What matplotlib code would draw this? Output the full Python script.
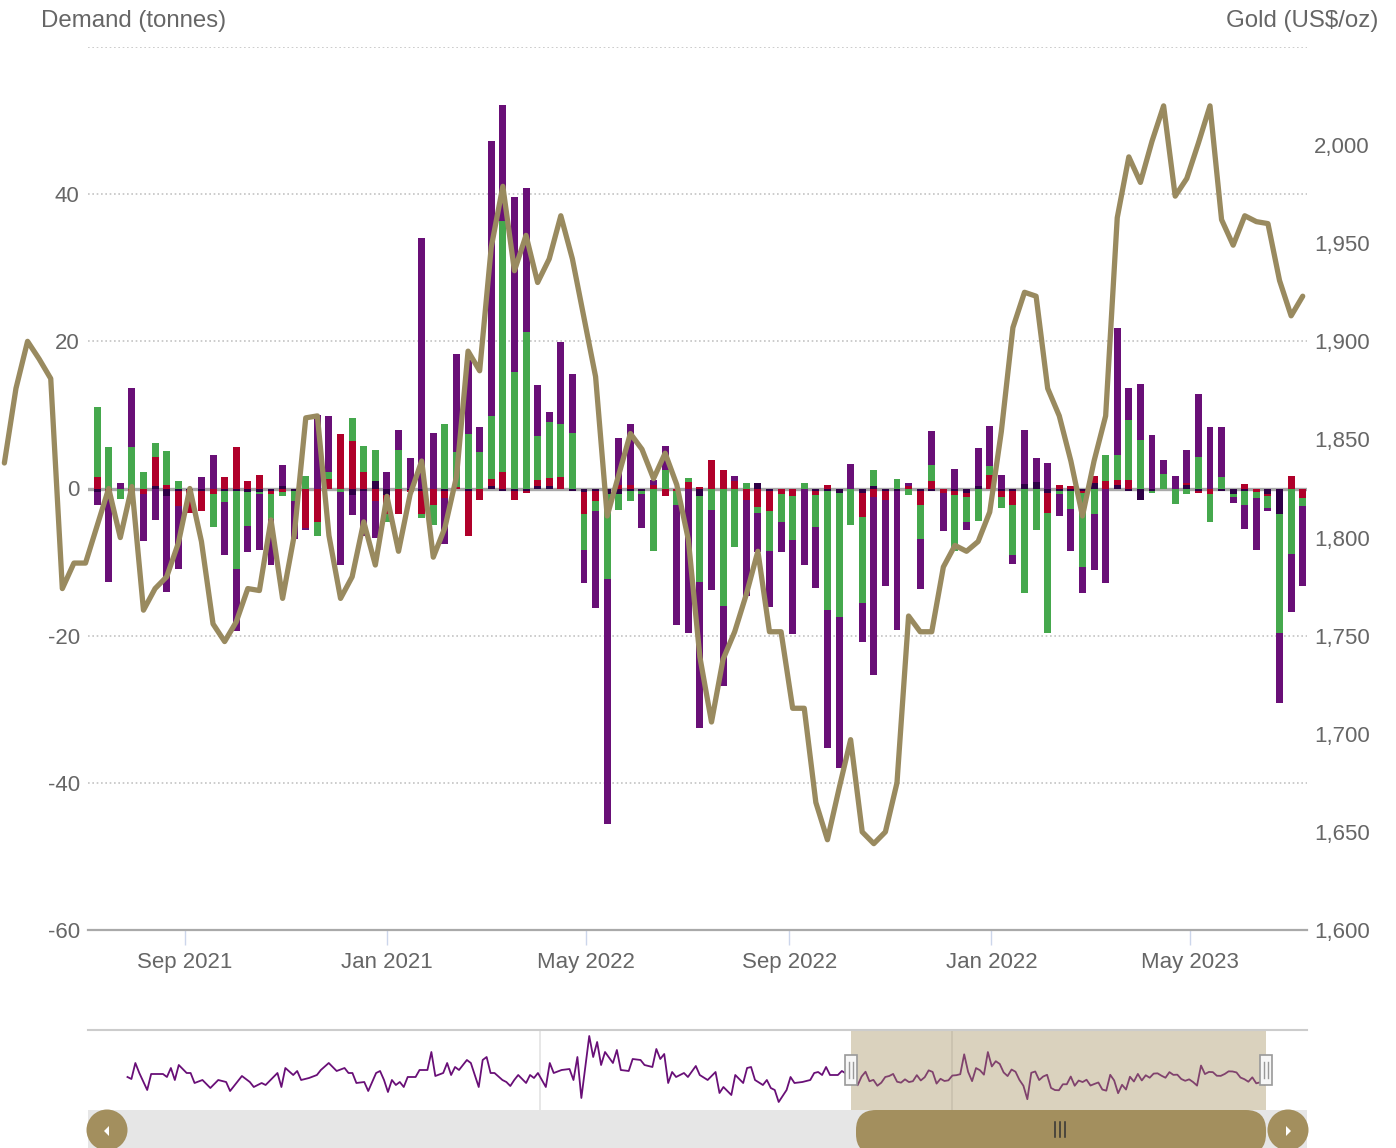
import matplotlib
matplotlib.use('Agg')
import matplotlib.pyplot as plt
import matplotlib.dates as mdates
from matplotlib.patches import Rectangle, Circle, FancyBboxPatch, Polygon
import numpy as np
import pandas as pd

plt.rcParams['font.family'] = ['Liberation Sans', 'DejaVu Sans']
plt.rcParams['axes.unicode_minus'] = False

W, H = 1396, 1148

# ---- data -------------------------------------------------------------
start_week = '2021-07-10'   # first weekly bar

# weekly flows (tonnes); stacked outward from zero in this order
dark_vals = [-0.5, 0, 0, 0, 0, 0.4, -1.0, -0.3, -0.2, -0.3,
             0, -0.3, -0.3, -0.5, -0.5, -0.3, 0.4, -0.3, 0, 0,
             0, 0, -0.9, -0.4, 1.0, -0.9, 0, -0.2, -0.4, 0,
             -0.4, 0, -0.4, 0, 0.3, -0.3, -0.3, -0.3, 0.3, 0.3,
             0, -0.4, -0.5, -0.3, -0.8, -0.7, -0.3, -0.3, 0, 0,
             0, 0, -1.0, 0, 0, 0, 0, 0.7, -0.3, 0,
             0, 0, -0.4, -0.4, -0.6, 0, -0.6, 0.4, -0.4, -0.4,
             0, -0.4, -0.3, 0, -0.4, -0.6, 0.4, 0, -0.4, -0.4,
             0.6, 0.9, -0.6, -0.3, -0.3, -0.3, 0.8, 0, 0.5, -0.4,
             -1.5, -0.3, 0, 0, 0.5, -0.3, 0, -0.3, -0.7, -0.3,
             0, -0.7, -3.5, 0, 0]
red_vals = [1.6, -0.3, 0, -0.7, -0.7, 3.9, 0.45, -2.1, -3.1, -2.7,
            -0.8, 1.6, 5.7, 1.0, 1.9, -0.5, -0.5, 0, -5.4, -4.5,
            1.3, 7.4, 6.4, 2.2, -1.7, -2.6, -3.4, -0.3, -3.1, -2.3,
            -0.9, 0.2, -6.0, -1.5, 1.0, 2.2, -1.3, -0.3, 0.9, 1.1,
            1.6, 0, -3.0, -1.4, 0, 0.5, 0.5, 0, 0.5, -1.0,
            -0.3, 0.9, 0.2, 3.9, 2.5, 1.0, -1.5, -2.5, -2.7, -0.7,
            -1.0, 0, -0.5, 0.5, 0, 0, -3.3, -1.1, -1.1, 0,
            0.3, -1.9, 1.0, -0.6, -0.5, -0.5, 0, 1.9, -0.7, -1.9,
            0, 0, -2.7, 0.5, 0.4, -0.3, 0.9, 1.0, 0.6, 1.2,
            0, 0, 0, 0, 0.2, -0.3, -0.7, 0, 0, 0.6,
            -0.5, -0.3, 0, 1.7, -1.3]
green_vals = [9.5, 5.7, -1.4, 5.7, 2.2, 1.9, 4.7, 1.0, 0, 0,
              -4.4, -1.6, -10.6, -4.6, -0.3, -3.3, -0.5, -1.4, 1.7, -1.9,
              0.9, -0.45, 3.2, 3.6, 4.2, -1.1, 5.3, 0, -0.5, -2.7,
              8.7, 4.7, 7.4, 4.9, 8.5, 34.1, 15.9, 21.3, 6.0, 7.6,
              7.1, 7.6, -4.9, -1.4, -11.5, -2.2, -1.4, -0.5, -8.5, 2.5,
              -1.9, 0.5, -11.7, -2.9, -16.0, -7.9, 0.7, -0.8, -5.5, -3.8,
              -6.0, 0.8, -4.4, -16.1, -16.9, -5.0, -11.7, 2.1, 0, 1.3,
              -0.9, -4.6, 2.2, 0, -7.6, -3.5, -4.4, 1.1, -1.6, -6.8,
              -14.2, -5.7, -16.4, -0.5, -2.5, -10.1, -3.5, 3.5, 3.5, 8.1,
              6.6, -0.3, 2.0, -2.1, -0.8, 4.3, -3.8, 1.5, -0.5, -1.9,
              -0.8, -1.6, -16.1, -8.9, -1.1]
purple_vals = [-1.8, -12.4, 0.7, 7.9, -6.4, -4.3, -13.1, -8.5, 0, 1.5,
               4.6, -7.1, -8.5, -3.5, -7.6, -6.3, 2.8, -5.2, -0.3, 10.0,
               7.6, -9.9, -2.7, -6.0, -5.0, 2.2, 2.7, 4.2, 34.0, 7.6,
               -6.2, 13.4, 10.1, 3.5, 37.4, 15.8, 23.7, 19.6, 6.8, 1.4,
               11.2, 7.9, -4.4, -13.1, -33.3, 6.3, 8.3, -4.6, 0.7, 3.3,
               -16.4, -19.6, -19.9, -10.9, -10.9, 0.7, -13.1, -5.3, -7.6, -4.1,
               -12.8, -10.4, -8.2, -18.8, -20.5, 3.3, -5.2, -24.3, -11.7, -18.8,
               0.4, -6.8, 4.6, -5.2, 2.6, -1.1, 5.1, 5.5, 1.9, -1.1,
               7.3, 3.2, 3.5, -3.0, -5.7, -3.5, -7.6, -12.9, 17.2, 4.4,
               7.6, 7.3, 1.9, 1.7, 4.5, 8.5, 8.3, 6.8, -0.8, -3.3,
               -7.1, -0.5, -9.5, -7.9, -10.9]

# gold price (US$/oz), weekly, starting 8 weeks before the first bar
gold_weeks_before = 8
gold_price = [1838, 1876, 1900, 1891, 1881, 1774, 1787, 1787,
              1806, 1825, 1800, 1826, 1763, 1774, 1780, 1797, 1825, 1798,
              1756, 1747, 1757, 1774, 1773, 1809, 1769, 1801, 1861, 1862,
              1801, 1769, 1780, 1808, 1786, 1821, 1793, 1822, 1839, 1790,
              1805, 1831, 1895, 1885, 1948, 1979, 1936, 1954, 1930, 1942,
              1964, 1942, 1912, 1882, 1811, 1832, 1853, 1845, 1830, 1843,
              1827, 1799, 1739, 1706, 1738, 1752, 1771, 1793, 1752, 1752,
              1713, 1713, 1665, 1646, 1672, 1697, 1650, 1644, 1650, 1675,
              1760, 1752, 1752, 1785, 1796, 1793, 1798, 1813, 1854, 1907,
              1925, 1923, 1876, 1862, 1839, 1811, 1839, 1862, 1963, 1994,
              1981, 2002, 2020, 1974, 1983, 2001, 2020, 1962, 1949, 1964,
              1961, 1960, 1931, 1913, 1923]

# navigator history (weeks relative to start_week, tonnes)
nav_hist_weeks = [-184, -183, -182, -181, -179, -178, -175, -174, -173, -172,
                  -171, -169, -168, -167, -165, -163, -161, -159, -158, -155,
                  -153, -152, -150, -149, -147, -146, -145, -144, -142, -141,
                  -140, -138, -136, -135, -133, -131, -129, -128, -127, -126,
                  -124, -123, -121, -120, -119, -118, -117, -116, -115, -114,
                  -113, -111, -110, -108, -107, -106, -104, -103, -102, -101,
                  -100, -98, -97, -95, -94, -93, -92, -91, -89, -88,
                  -87, -86, -85, -83, -82, -81, -80, -78, -77, -76,
                  -74, -72, -71, -70, -69, -67, -66, -65, -64, -63,
                  -61, -60, -59, -57, -56, -54, -53, -51, -50, -49,
                  -48, -47, -46, -45, -43, -42, -40, -39, -37, -35,
                  -34, -33, -31, -30, -28, -27, -26, -25, -23, -22,
                  -21, -20, -19, -17, -16, -15, -13, -11, -10, -9,
                  -8, -7, -6, -4, -3]
nav_hist_vals = [0, -3, 21, 6, -19.5, 4.5, 4.5, 0, 13.5, -4.5,
                 18, 6, 6, -9, -4.5, -16.5, -4.5, -7.5, -21, 1.5,
                 -7.5, -15, -9, -12, 0, 6, -15, 13.5, 3, 9,
                 -4.5, -1.5, 3, 10.5, 21, 9, 13.5, 6, 6, -9,
                 -7.5, -21, 6, 9, -4.5, -22.5, -4.5, -12, -7.5, -15,
                 0, 0, 10.5, 10.5, 37.5, 1.5, 6, 21, 3, 15,
                 10.5, 25.5, 21, -15, 25.5, 30, 6, 6, -4.5, -7.5,
                 -13.5, -4.5, 3, -9, 3, -1.5, 6, -15, 21, 6,
                 10.5, 12, -4.5, 30, -31.5, 61.5, 30, 52.5, 18, 37.5,
                 21, 40.5, 10.5, 9, 27, 25.5, 18, 15, 42, 27,
                 34.5, -9, 7.5, 0, 6, 0, 16.5, 3, -4.5, 7.5,
                 -24, -15, -27, 3, -9, 13.5, 15, -4.5, -12, -4.5,
                 -16.5, -19.5, -37.5, -19.5, 0, -9, -7.5, -4.5, 6, 7.5,
                 3, 15, 3, 3, 9]

x_tick_dates = ['2021-09-01', '2022-01-01', '2022-05-01',
                '2022-09-01', '2023-01-01', '2023-05-01']
x_tick_labels = ['Sep 2021', 'Jan 2021', 'May 2022',
                 'Sep 2022', 'Jan 2022', 'May 2023']
left_ticks = [-60, -40, -20, 0, 20, 40]
right_ticks = [1600, 1650, 1700, 1750, 1800, 1850, 1900, 1950, 2000]
nav_year_lines = ['2020-01-01', '2022-01-01']

# ---- colours ------------------------------------------------------------
C_DARK, C_RED, C_GREEN, C_PURPLE = '#2e0046', '#b0002a', '#45a84d', '#690f77'
C_GOLD = '#998a5f'
C_TAN = '#a38f5e'
C_TEXT = '#666666'

# ---- figure -----------------------------------------------------------
fig = plt.figure(figsize=(W / 100, H / 100), dpi=100)


def fx(px):
    return px / W


def fy(py):
    return 1 - py / H


ax = fig.add_axes([fx(88), fy(930), fx(1307) - fx(88), fy(47) - fy(930)])
start = pd.Timestamp(start_week)
n = len(purple_vals)
dates = pd.date_range(start, periods=n, freq='7D')
xd = mdates.date2num(dates)

pos = np.zeros(n)
neg = np.zeros(n)
for vals, col in [(dark_vals, C_DARK), (red_vals, C_RED),
                  (green_vals, C_GREEN), (purple_vals, C_PURPLE)]:
    v = np.array(vals, dtype=float)
    bottom = np.where(v >= 0, pos, neg)
    ax.bar(xd, v, width=4.2, bottom=bottom, color=col, linewidth=0, zorder=3)
    pos += np.clip(v, 0, None)
    neg += np.clip(v, None, 0)

for g in [-40, -20, 20, 40, 60]:
    ax.axhline(g, color='#c4c4c4', lw=1.2, ls=(0, (1, 1.6)), zorder=1)
ax.axhline(0, color='#a9a9a9', lw=2.4, zorder=2)

ax.set_ylim(-60, 60)
ax.set_xlim(mdates.date2num(pd.Timestamp('2021-07-04 12:00')),
            mdates.date2num(pd.Timestamp('2023-07-10 14:00')))
for s in ['top', 'left', 'right']:
    ax.spines[s].set_visible(False)
ax.spines['bottom'].set_color('#a9a9a9')
ax.spines['bottom'].set_linewidth(1.6)
ax.set_xticks(mdates.date2num(pd.to_datetime(x_tick_dates)))
ax.set_xticklabels(x_tick_labels)
ax.tick_params(axis='x', length=10.8, width=1, color='#ccd6eb', pad=5,
               labelsize=16, labelcolor=C_TEXT)
ax.set_yticks(left_ticks)
ax.tick_params(axis='y', length=0, pad=6, labelsize=16, labelcolor=C_TEXT)

ax2 = ax.twinx()
gold_dates = pd.date_range(start - pd.Timedelta(weeks=gold_weeks_before),
                           periods=len(gold_price), freq='7D')
ax2.plot(mdates.date2num(gold_dates), gold_price, color=C_GOLD, lw=3.8,
         solid_joinstyle='round', solid_capstyle='round', clip_on=False,
         zorder=5)
ax2.set_ylim(1600, 2050)
ax2.set_yticks(right_ticks)
ax2.set_yticklabels(['{:,}'.format(t) for t in right_ticks])
ax2.tick_params(axis='y', length=0, pad=5, labelsize=16, labelcolor=C_TEXT)
for s in ax2.spines.values():
    s.set_visible(False)

fig.text(fx(41), fy(21), 'Demand (tonnes)', fontsize=17.3, color=C_TEXT,
         ha='left', va='center')
fig.text(fx(1378), fy(21), r'Gold (US\$/oz)', fontsize=17.3, color=C_TEXT,
         ha='right', va='center')

# ---- navigator ----------------------------------------------------------
nav = fig.add_axes([fx(88), fy(1110), fx(1307) - fx(88), fy(1030) - fy(1110)])
nav_weeks = list(nav_hist_weeks) + list(range(n))
nav_vals = list(nav_hist_vals) + list(purple_vals)
nav_dates = start + pd.to_timedelta(np.array(nav_weeks) * 7, unit='D')
nav.plot(mdates.date2num(nav_dates), nav_vals, color=C_PURPLE, lw=1.3,
         zorder=2)
for d in nav_year_lines:
    nav.axvline(mdates.date2num(pd.Timestamp(d)), color='#e3e3e3', lw=1.2,
                zorder=1)
sel0, sel1 = ax.get_xlim()
nav.axvspan(sel0, sel1, color=C_TAN, alpha=0.4, lw=0, zorder=3)
nav.set_xlim(mdates.date2num(pd.Timestamp('2017-10-21')),
             mdates.date2num(pd.Timestamp('2023-09-22')))
nav.set_ylim(-49.5, 70.5)
nav.axis('off')

# ---- scrollbar / handles (pixel overlay) --------------------------------
deco = fig.add_axes([0, 0, 1, 1], zorder=10)
deco.set_xlim(0, W)
deco.set_ylim(H, 0)
deco.axis('off')
deco.patch.set_alpha(0)
deco.plot([88, 1307], [1030, 1030], color='#cccccc', lw=1.5)
deco.add_patch(Rectangle((88, 1110), 1219, 45, color='#e6e6e6', lw=0))
deco.add_patch(FancyBboxPatch((856, 1110), 410, 44,
                              boxstyle='round,pad=0,rounding_size=20',
                              color=C_TAN, lw=0))
for xx in [1055, 1060, 1065]:
    deco.plot([xx, xx], [1122, 1137], color='#333333', lw=1.1)
deco.add_patch(Circle((107, 1130), 20.5, color=C_TAN, lw=0))
deco.add_patch(Polygon([(104, 1131), (109, 1126), (109, 1136)],
                       color='white', lw=0))
deco.add_patch(Circle((1288, 1130), 20.5, color=C_TAN, lw=0))
deco.add_patch(Polygon([(1291, 1131), (1286, 1126), (1286, 1136)],
                       color='white', lw=0))
for hx in [851, 1266]:
    deco.add_patch(Rectangle((hx - 6, 1055), 12, 30, facecolor='#f7f7f7',
                             edgecolor='#999999', lw=1.2))
    for dx in [-2, 2]:
        deco.plot([hx + dx, hx + dx], [1062, 1078], color='#999999', lw=1)

fig.savefig('out.png', dpi=100)
